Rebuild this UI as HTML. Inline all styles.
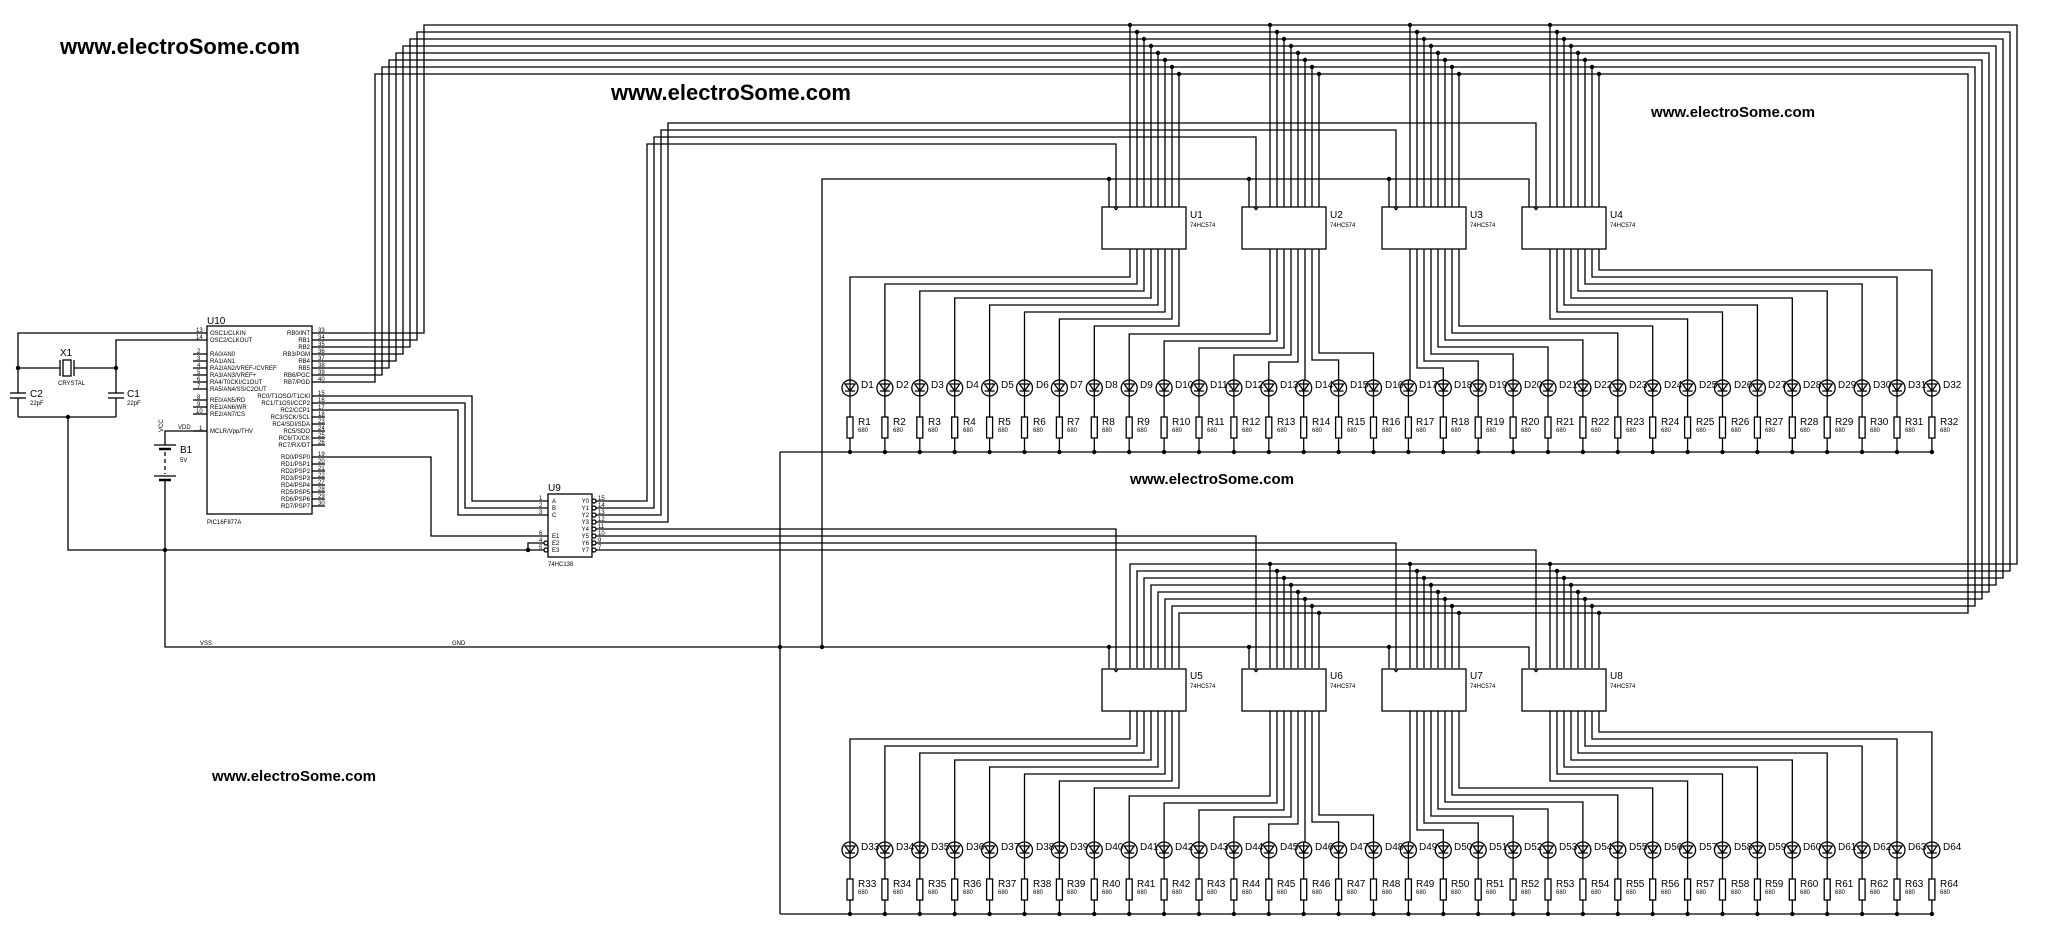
<!DOCTYPE html>
<html><head><meta charset="utf-8"><style>
html,body{margin:0;padding:0;background:#fff}
svg{display:block}
svg polyline,svg line,svg circle,svg rect,svg polygon{stroke:#000;stroke-width:1.3;fill:none}
text{font-family:"Liberation Sans",sans-serif;fill:#000}
.wm{font-weight:bold}
.s6{font-size:6px}
.s10{font-size:10px}
</style></head><body>
<svg id="s" xmlns="http://www.w3.org/2000/svg" width="2048" height="936" viewBox="0 0 2048 936">
<g id="g"></g>
<text class="wm" x="60" y="54" font-size="22" textLength="240" lengthAdjust="spacingAndGlyphs">www.electroSome.com</text>
<text class="wm" x="611" y="100" font-size="22" textLength="240" lengthAdjust="spacingAndGlyphs">www.electroSome.com</text>
<text class="wm" x="1651" y="117" font-size="15" textLength="164" lengthAdjust="spacingAndGlyphs">www.electroSome.com</text>
<text class="wm" x="1130" y="484" font-size="15" textLength="164" lengthAdjust="spacingAndGlyphs">www.electroSome.com</text>
<text class="wm" x="212" y="781" font-size="15" textLength="164" lengthAdjust="spacingAndGlyphs">www.electroSome.com</text>

<text class="s10"><tspan x="207" y="324">U10</tspan><tspan x="548" y="491">U9</tspan><tspan x="60" y="356">X1</tspan><tspan x="30" y="397">C2</tspan><tspan x="127" y="397">C1</tspan><tspan x="180" y="453">B1</tspan></text>
<text class="s6"><tspan x="207" y="524">PIC16F877A</tspan><tspan x="548" y="566">74HC138</tspan><tspan x="58" y="385">CRYSTAL</tspan><tspan x="30" y="405">22pF</tspan><tspan x="127" y="405">22pF</tspan><tspan x="180" y="462">5V</tspan><tspan x="178" y="429">VDD</tspan><tspan x="200" y="645">VSS</tspan><tspan x="452" y="645">GND</tspan></text>
<text class="s6" transform="translate(163,432) rotate(-90)">VCC</text>
<text class="s6"><tspan x="210" y="335">OSC1/CLKIN</tspan><tspan x="210" y="342">OSC2/CLKOUT</tspan><tspan x="210" y="356">RA0/AN0</tspan><tspan x="210" y="363">RA1/AN1</tspan><tspan x="210" y="370">RA2/AN2/VREF-/CVREF</tspan><tspan x="210" y="377">RA3/AN3/VREF+</tspan><tspan x="210" y="384">RA4/T0CKI/C1OUT</tspan><tspan x="210" y="391">RA5/AN4/SS/C2OUT</tspan><tspan x="210" y="402">RE0/AN5/RD</tspan><tspan x="210" y="409">RE1/AN6/WR</tspan><tspan x="210" y="416">RE2/AN7/CS</tspan><tspan x="210" y="433">MCLR/Vpp/THV</tspan></text>
<text class="s6"><tspan x="196" y="332">13</tspan><tspan x="196" y="339">14</tspan><tspan x="197" y="353">2</tspan><tspan x="197" y="360">3</tspan><tspan x="197" y="367">4</tspan><tspan x="197" y="374">5</tspan><tspan x="197" y="381">6</tspan><tspan x="197" y="388">7</tspan><tspan x="197" y="399">8</tspan><tspan x="197" y="406">9</tspan><tspan x="196" y="413">10</tspan><tspan x="199" y="430">1</tspan></text>
<text class="s6" text-anchor="end"><tspan x="310" y="335">RB0/INT</tspan><tspan x="310" y="342">RB1</tspan><tspan x="310" y="349">RB2</tspan><tspan x="310" y="356">RB3/PGM</tspan><tspan x="310" y="363">RB4</tspan><tspan x="310" y="370">RB5</tspan><tspan x="310" y="377">RB6/PGC</tspan><tspan x="310" y="384">RB7/PGD</tspan><tspan x="310" y="398">RC0/T1OSO/T1CKI</tspan><tspan x="310" y="405">RC1/T1OSI/CCP2</tspan><tspan x="310" y="412">RC2/CCP1</tspan><tspan x="310" y="419">RC3/SCK/SCL</tspan><tspan x="310" y="426">RC4/SDI/SDA</tspan><tspan x="310" y="433">RC5/SDO</tspan><tspan x="310" y="440">RC6/TX/CK</tspan><tspan x="310" y="447">RC7/RX/DT</tspan><tspan x="310" y="459">RD0/PSP0</tspan><tspan x="310" y="466">RD1/PSP1</tspan><tspan x="310" y="473">RD2/PSP2</tspan><tspan x="310" y="480">RD3/PSP3</tspan><tspan x="310" y="487">RD4/PSP4</tspan><tspan x="310" y="494">RD5/PSP5</tspan><tspan x="310" y="501">RD6/PSP6</tspan><tspan x="310" y="508">RD7/PSP7</tspan></text>
<text class="s6"><tspan x="318" y="332">33</tspan><tspan x="318" y="339">34</tspan><tspan x="318" y="346">35</tspan><tspan x="318" y="353">36</tspan><tspan x="318" y="360">37</tspan><tspan x="318" y="367">38</tspan><tspan x="318" y="374">39</tspan><tspan x="318" y="381">40</tspan><tspan x="318" y="395">15</tspan><tspan x="318" y="402">16</tspan><tspan x="318" y="409">17</tspan><tspan x="318" y="416">18</tspan><tspan x="318" y="423">23</tspan><tspan x="318" y="430">24</tspan><tspan x="318" y="437">25</tspan><tspan x="318" y="444">26</tspan><tspan x="318" y="456">19</tspan><tspan x="318" y="463">20</tspan><tspan x="318" y="470">21</tspan><tspan x="318" y="477">22</tspan><tspan x="318" y="484">27</tspan><tspan x="318" y="491">28</tspan><tspan x="318" y="498">29</tspan><tspan x="318" y="505">30</tspan></text>
<text class="s6"><tspan x="552" y="503">A</tspan><tspan x="552" y="510">B</tspan><tspan x="552" y="517">C</tspan><tspan x="552" y="538">E1</tspan><tspan x="552" y="545">E2</tspan><tspan x="552" y="552">E3</tspan><tspan x="539" y="500">1</tspan><tspan x="539" y="507">2</tspan><tspan x="539" y="514">3</tspan><tspan x="539" y="535">6</tspan><tspan x="539" y="542">4</tspan><tspan x="539" y="549">5</tspan><tspan x="598" y="500">15</tspan><tspan x="598" y="507">14</tspan><tspan x="598" y="514">13</tspan><tspan x="598" y="521">12</tspan><tspan x="598" y="528">11</tspan><tspan x="598" y="535">10</tspan><tspan x="598" y="542">9</tspan><tspan x="598" y="549">7</tspan></text>
<text class="s6" text-anchor="end"><tspan x="589" y="503">Y0</tspan><tspan x="589" y="510">Y1</tspan><tspan x="589" y="517">Y2</tspan><tspan x="589" y="524">Y3</tspan><tspan x="589" y="531">Y4</tspan><tspan x="589" y="538">Y5</tspan><tspan x="589" y="545">Y6</tspan><tspan x="589" y="552">Y7</tspan></text>

<text class="s10"><tspan x="1190" y="218">U1</tspan><tspan x="1330" y="218">U2</tspan><tspan x="1470" y="218">U3</tspan><tspan x="1610" y="218">U4</tspan><tspan x="1190" y="679">U5</tspan><tspan x="1330" y="679">U6</tspan><tspan x="1470" y="679">U7</tspan><tspan x="1610" y="679">U8</tspan></text>
<text class="s6"><tspan x="1190" y="227">74HC574</tspan><tspan x="1330" y="227">74HC574</tspan><tspan x="1470" y="227">74HC574</tspan><tspan x="1610" y="227">74HC574</tspan><tspan x="1190" y="688">74HC574</tspan><tspan x="1330" y="688">74HC574</tspan><tspan x="1470" y="688">74HC574</tspan><tspan x="1610" y="688">74HC574</tspan></text>

<text class="s10" y="388"><tspan x="861">D1</tspan><tspan x="896">D2</tspan><tspan x="931">D3</tspan><tspan x="966">D4</tspan><tspan x="1001">D5</tspan><tspan x="1036">D6</tspan><tspan x="1070">D7</tspan><tspan x="1105">D8</tspan><tspan x="1140">D9</tspan><tspan x="1175">D10</tspan><tspan x="1210">D11</tspan><tspan x="1245">D12</tspan><tspan x="1280">D13</tspan><tspan x="1315">D14</tspan><tspan x="1350">D15</tspan><tspan x="1385">D16</tspan><tspan x="1419">D17</tspan><tspan x="1454">D18</tspan><tspan x="1489">D19</tspan><tspan x="1524">D20</tspan><tspan x="1559">D21</tspan><tspan x="1594">D22</tspan><tspan x="1629">D23</tspan><tspan x="1664">D24</tspan><tspan x="1699">D25</tspan><tspan x="1734">D26</tspan><tspan x="1768">D27</tspan><tspan x="1803">D28</tspan><tspan x="1838">D29</tspan><tspan x="1873">D30</tspan><tspan x="1908">D31</tspan><tspan x="1943">D32</tspan></text>
<text class="s10" y="850"><tspan x="861">D33</tspan><tspan x="896">D34</tspan><tspan x="931">D35</tspan><tspan x="966">D36</tspan><tspan x="1001">D37</tspan><tspan x="1036">D38</tspan><tspan x="1070">D39</tspan><tspan x="1105">D40</tspan><tspan x="1140">D41</tspan><tspan x="1175">D42</tspan><tspan x="1210">D43</tspan><tspan x="1245">D44</tspan><tspan x="1280">D45</tspan><tspan x="1315">D46</tspan><tspan x="1350">D47</tspan><tspan x="1385">D48</tspan><tspan x="1419">D49</tspan><tspan x="1454">D50</tspan><tspan x="1489">D51</tspan><tspan x="1524">D52</tspan><tspan x="1559">D53</tspan><tspan x="1594">D54</tspan><tspan x="1629">D55</tspan><tspan x="1664">D56</tspan><tspan x="1699">D57</tspan><tspan x="1734">D58</tspan><tspan x="1768">D59</tspan><tspan x="1803">D60</tspan><tspan x="1838">D61</tspan><tspan x="1873">D62</tspan><tspan x="1908">D63</tspan><tspan x="1943">D64</tspan></text>
<text class="s10" y="425"><tspan x="858">R1</tspan><tspan x="893">R2</tspan><tspan x="928">R3</tspan><tspan x="963">R4</tspan><tspan x="998">R5</tspan><tspan x="1033">R6</tspan><tspan x="1067">R7</tspan><tspan x="1102">R8</tspan><tspan x="1137">R9</tspan><tspan x="1172">R10</tspan><tspan x="1207">R11</tspan><tspan x="1242">R12</tspan><tspan x="1277">R13</tspan><tspan x="1312">R14</tspan><tspan x="1347">R15</tspan><tspan x="1382">R16</tspan><tspan x="1416">R17</tspan><tspan x="1451">R18</tspan><tspan x="1486">R19</tspan><tspan x="1521">R20</tspan><tspan x="1556">R21</tspan><tspan x="1591">R22</tspan><tspan x="1626">R23</tspan><tspan x="1661">R24</tspan><tspan x="1696">R25</tspan><tspan x="1731">R26</tspan><tspan x="1765">R27</tspan><tspan x="1800">R28</tspan><tspan x="1835">R29</tspan><tspan x="1870">R30</tspan><tspan x="1905">R31</tspan><tspan x="1940">R32</tspan></text>
<text class="s10" y="887"><tspan x="858">R33</tspan><tspan x="893">R34</tspan><tspan x="928">R35</tspan><tspan x="963">R36</tspan><tspan x="998">R37</tspan><tspan x="1033">R38</tspan><tspan x="1067">R39</tspan><tspan x="1102">R40</tspan><tspan x="1137">R41</tspan><tspan x="1172">R42</tspan><tspan x="1207">R43</tspan><tspan x="1242">R44</tspan><tspan x="1277">R45</tspan><tspan x="1312">R46</tspan><tspan x="1347">R47</tspan><tspan x="1382">R48</tspan><tspan x="1416">R49</tspan><tspan x="1451">R50</tspan><tspan x="1486">R51</tspan><tspan x="1521">R52</tspan><tspan x="1556">R53</tspan><tspan x="1591">R54</tspan><tspan x="1626">R55</tspan><tspan x="1661">R56</tspan><tspan x="1696">R57</tspan><tspan x="1731">R58</tspan><tspan x="1765">R59</tspan><tspan x="1800">R60</tspan><tspan x="1835">R61</tspan><tspan x="1870">R62</tspan><tspan x="1905">R63</tspan><tspan x="1940">R64</tspan></text>
<text class="s6" y="432"><tspan x="858">680</tspan><tspan x="893">680</tspan><tspan x="928">680</tspan><tspan x="963">680</tspan><tspan x="998">680</tspan><tspan x="1033">680</tspan><tspan x="1067">680</tspan><tspan x="1102">680</tspan><tspan x="1137">680</tspan><tspan x="1172">680</tspan><tspan x="1207">680</tspan><tspan x="1242">680</tspan><tspan x="1277">680</tspan><tspan x="1312">680</tspan><tspan x="1347">680</tspan><tspan x="1382">680</tspan><tspan x="1416">680</tspan><tspan x="1451">680</tspan><tspan x="1486">680</tspan><tspan x="1521">680</tspan><tspan x="1556">680</tspan><tspan x="1591">680</tspan><tspan x="1626">680</tspan><tspan x="1661">680</tspan><tspan x="1696">680</tspan><tspan x="1731">680</tspan><tspan x="1765">680</tspan><tspan x="1800">680</tspan><tspan x="1835">680</tspan><tspan x="1870">680</tspan><tspan x="1905">680</tspan><tspan x="1940">680</tspan></text>
<text class="s6" y="894"><tspan x="858">680</tspan><tspan x="893">680</tspan><tspan x="928">680</tspan><tspan x="963">680</tspan><tspan x="998">680</tspan><tspan x="1033">680</tspan><tspan x="1067">680</tspan><tspan x="1102">680</tspan><tspan x="1137">680</tspan><tspan x="1172">680</tspan><tspan x="1207">680</tspan><tspan x="1242">680</tspan><tspan x="1277">680</tspan><tspan x="1312">680</tspan><tspan x="1347">680</tspan><tspan x="1382">680</tspan><tspan x="1416">680</tspan><tspan x="1451">680</tspan><tspan x="1486">680</tspan><tspan x="1521">680</tspan><tspan x="1556">680</tspan><tspan x="1591">680</tspan><tspan x="1626">680</tspan><tspan x="1661">680</tspan><tspan x="1696">680</tspan><tspan x="1731">680</tspan><tspan x="1765">680</tspan><tspan x="1800">680</tspan><tspan x="1835">680</tspan><tspan x="1870">680</tspan><tspan x="1905">680</tspan><tspan x="1940">680</tspan></text>
</svg>
<script>
(function(){
var NS="http://www.w3.org/2000/svg",G=document.getElementById("g");
function el(t,a){var e=document.createElementNS(NS,t);for(var k in a)e.setAttribute(k,a[k]);G.appendChild(e);return e;}
function pl(p){var s=[];for(var i=0;i<p.length;i++)s.push(p[i][0]+","+p[i][1]);el("polyline",{points:s.join(" ")});}
function ln(a,b,c,d){pl([[a,b],[c,d]]);}
function dot(x,y){el("circle",{cx:x,cy:y,r:2.2,style:"fill:#000;stroke:none"});}
function rect(x,y,w,h,f){el("rect",{x:x,y:y,width:w,height:h,style:"fill:"+(f||"#fff")});}
function LX(j){return 850+34.9*j;}
var DY=462;
// LEDs and resistors
for(var r=0;r<2;r++){var dy=r*DY;
 for(var j=0;j<32;j++){var x=LX(j),cy=388+dy;
  el("circle",{cx:x,cy:cy,r:8,style:"fill:#fff"});
  el("polygon",{points:(x-5)+","+(cy-4)+" "+(x+5)+","+(cy-4)+" "+x+","+(cy+3)});
  ln(x-5,cy+3,x+5,cy+3);ln(x,cy-8,x,cy+8);
  ln(x,cy+8,x,417+dy);rect(x-3,417+dy,6,21);ln(x,438+dy,x,452+dy);dot(x,452+dy);}
 ln(780,452+dy,LX(31),452+dy);}
ln(780,452,780,914);dot(780,647);
// chips & output routing
var LB=[277,334,0,0],RB=[0,353,326,270];
for(var r=0;r<2;r++){var dy=r*DY;
 for(var k=0;k<4;k++){var x0=1102+140*k,y0=207+dy;
  for(var i=0;i<8;i++){var px=x0+28+7*i,lx=LX(8*k+i);
   if(Math.abs(px-lx)<3){ln(px,y0+42,px,380+dy);}
   else{var y=(lx<px)?LB[k]+7*i:RB[k]+7*(7-i);y+=dy;
    pl([[px,y0+42],[px,y],[lx,y],[lx,380+dy]]);}}
  rect(x0,y0,84,42);
  ln(x0+12,y0,x0+14,y0+3);ln(x0+16,y0,x0+14,y0+3);}}
// data bus
for(var i=0;i<8;i++){var y1=25+7*i,xl=424-7*i,xr=2017-7*i,y2=564+7*i;
 pl([[325,333+7*i],[xl,333+7*i],[xl,y1],[xr,y1],[xr,y2],[1130+7*i,y2],[1130+7*i,668]]);
 for(var k=0;k<4;k++){var px=1130+140*k+7*i;ln(px,y1,px,207);dot(px,y1);
  if(k>0){ln(px,y2,px,668);dot(px,y2);}}}
// clocks
var cx=[647,654,661,668];
for(var k=0;k<4;k++){var cl=1116+140*k;
 pl([[592,501+7*k],[cx[k],501+7*k],[cx[k],144-7*k],[cl,144-7*k],[cl,207]]);
 pl([[592,529+7*k],[cl,529+7*k],[cl,668]]);}
// OE
pl([[822,647],[822,179],[1529,179],[1529,207]]);dot(822,647);
for(var k=0;k<3;k++){var ox=1109+140*k;ln(ox,179,ox,207);dot(ox,179);ln(ox,647,ox,668);dot(ox,647);}
pl([[165,480],[165,647],[1529,647],[1529,668]]);dot(165,550);
// PIC
rect(207,326,105,188);
var Ly=[333,340,354,361,368,375,382,389,400,407,414,431];
for(var i=0;i<Ly.length;i++)ln(193,Ly[i],207,Ly[i]);
for(var i=0;i<8;i++){ln(312,333+7*i,325,333+7*i);ln(312,396+7*i,325,396+7*i);ln(312,457+7*i,325,457+7*i);}
pl([[193,333],[18,333],[18,393]]);ln(10,393,26,393);ln(10,398,26,398);ln(18,398,18,417);
pl([[193,340],[116,340],[116,393]]);ln(108,393,124,393);ln(108,398,124,398);ln(116,398,116,417);
ln(18,417,116,417);dot(68,417);pl([[68,417],[68,550],[548,550]]);
ln(18,368,60,368);ln(74,368,116,368);ln(60,360,60,376);ln(74,360,74,376);rect(63,360,8,16);dot(18,368);dot(116,368);
pl([[207,431],[165,431],[165,445]]);ln(154,445,176,445);el("line",{x1:159,y1:449,x2:171,y2:449,style:"stroke-width:2.5"});
el("line",{x1:165,y1:452,x2:165,y2:474,style:"stroke-dasharray:4,3"});ln(154,476,176,476);el("line",{x1:159,y1:480,x2:171,y2:480,style:"stroke-width:2.5"});
for(var i=0;i<3;i++){var y=396+7*i,x=472-7*i;pl([[325,y],[x,y],[x,501+7*i],[548,501+7*i]]);}
pl([[325,457],[431,457],[431,536],[548,536]]);
pl([[528,550],[528,543],[548,543]]);dot(528,550);
rect(548,494,44,63);
for(var i=0;i<8;i++)el("circle",{cx:594,cy:501+7*i,r:2,style:"fill:#fff"});
el("circle",{cx:546,cy:543,r:2,style:"fill:#fff"});el("circle",{cx:546,cy:550,r:2,style:"fill:#fff"});
})();
</script>
</body></html>
